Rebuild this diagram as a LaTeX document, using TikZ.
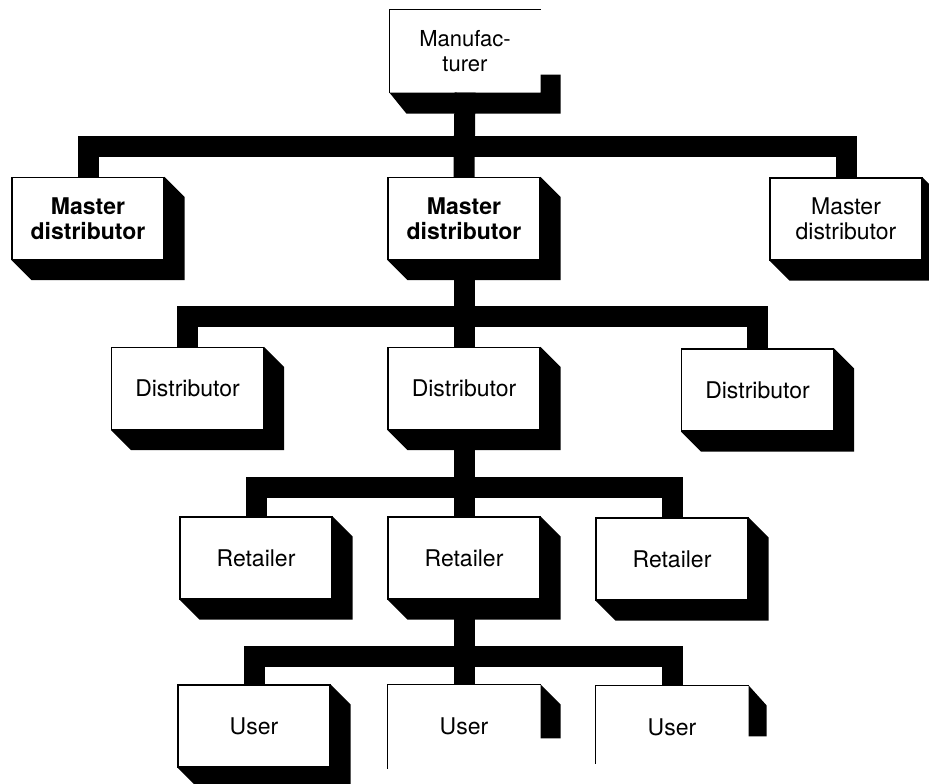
\documentclass[tikz,border=0pt]{standalone}
\usepackage{fontspec}
\setmainfont{TeX Gyre Heros}
\usetikzlibrary{calc,backgrounds}
\tikzset{
  face/.style={draw=black, line width=1.2pt, fill=white, minimum width=152pt,
    minimum height=82pt, inner sep=0pt, align=center,
    font=\fontsize{23}{25}\selectfont},
  openface/.style={face, draw=none},
  boldface/.style={face, font=\fontsize{23}{25}\selectfont\bfseries},
  bar/.style={draw=black, line width=21pt, line join=miter, line cap=butt},
  edge/.style={draw=black, line width=1.2pt},
  shade/.style={fill=black}
}
\newcommand\boxshadow[1]{%
  \fill[shade] (#1.north east) -- ++(20,-20) -- ($(#1.south east)+(20,-20)$)
    -- ($(#1.south west)+(20,-20)$) -- (#1.south west) -- cycle;}
\begin{document}
\begin{tikzpicture}[x=1pt,y=1pt]
\useasboundingbox (0,0) rectangle (929,-784);
\clip (0,0) rectangle (929,-784);

% boxes
\node[openface, minimum width=150pt, font=\fontsize{22}{25}\selectfont] (mfr) at (465,-51) {Manufac-\\turer};

\node[boldface] (mL) at (88,-218.5) {Master\\distributor};
\node[boldface] (mM) at (464,-218.5) {Master\\distributor};
\node[face]     (mR) at (846,-219) {Master\\distributor};

\node[face] (dL) at (187.5,-388.5) {Distributor};
\node[face] (dM) at (464,-388.5) {Distributor};
\node[face] (dR) at (757.5,-390) {Distributor};

\node[face] (rL) at (256,-558) {Retailer};
\node[face] (rM) at (464,-558) {Retailer};
\node[face] (rR) at (672,-559) {Retailer};

\node[face]     (uL) at (254,-726) {User};
\node[openface] (uM) at (464,-726) {User};
\node[openface] (uR) at (672,-727) {User};

\coordinate (b1) at (0,-146);
\coordinate (b2) at (0,-316);
\coordinate (b3) at (0,-487);
\coordinate (b4) at (0,-656);

\begin{scope}[on background layer]
  % connectors
  \draw[bar] (mfr.south) -- (mM.north);
  \draw[bar] (mL.north) -- (mL.north |- b1) -- (mR.north |- b1) -- (mR.north);
  \draw[bar] (mM.south) -- (dM.north);
  \draw[bar] (dL.north) -- (dL.north |- b2) -- (dR.north |- b2) -- (dR.north);
  \draw[bar] (dM.south) -- (rM.north);
  \draw[bar] (rL.north) -- (rL.north |- b3) -- (rR.north |- b3) -- (rR.north);
  \draw[bar] (rM.south) -- (uM.north);
  \draw[bar] (uL.north) -- (uL.north |- b4) -- (uR.north |- b4) -- (uR.north);
  % shadows
  \boxshadow{mL}\boxshadow{mM}\boxshadow{mR}
  \boxshadow{dL}\boxshadow{dM}\boxshadow{dR}
  \boxshadow{rL}\boxshadow{rM}\boxshadow{rR}
  \boxshadow{uL}
  % manufacturer (partial)
  \fill[shade] (mfr.south west) -- (mfr.south east) -- ($(mfr.south east)+(0,18)$)
    -- ($(mfr.south east)+(20,18)$) -- ($(mfr.south east)+(20,-21)$)
    -- ($(mfr.south west)+(17,-21)$) -- cycle;
  % partial users
  \fill[shade] (uM.north east) -- ++(20,-20) -- ($(uM.north east)+(20,-54)$)
    -- ($(uM.north east)+(0,-54)$) -- cycle;
  \fill[shade] (uR.north east) -- ++(18,-20) -- ($(uR.north east)+(18,-51)$)
    -- ($(uR.north east)+(0,-51)$) -- cycle;
\end{scope}

\draw[edge] (mfr.south west) -- (mfr.north west) -- (mfr.north east);
\draw[edge] ($(uM.south west)+(0,-1)$) -- (uM.north west) -- (uM.north east);
\draw[edge] ($(uR.south west)+(0,5)$) -- (uR.north west) -- (uR.north east);
\end{tikzpicture}
\end{document}
